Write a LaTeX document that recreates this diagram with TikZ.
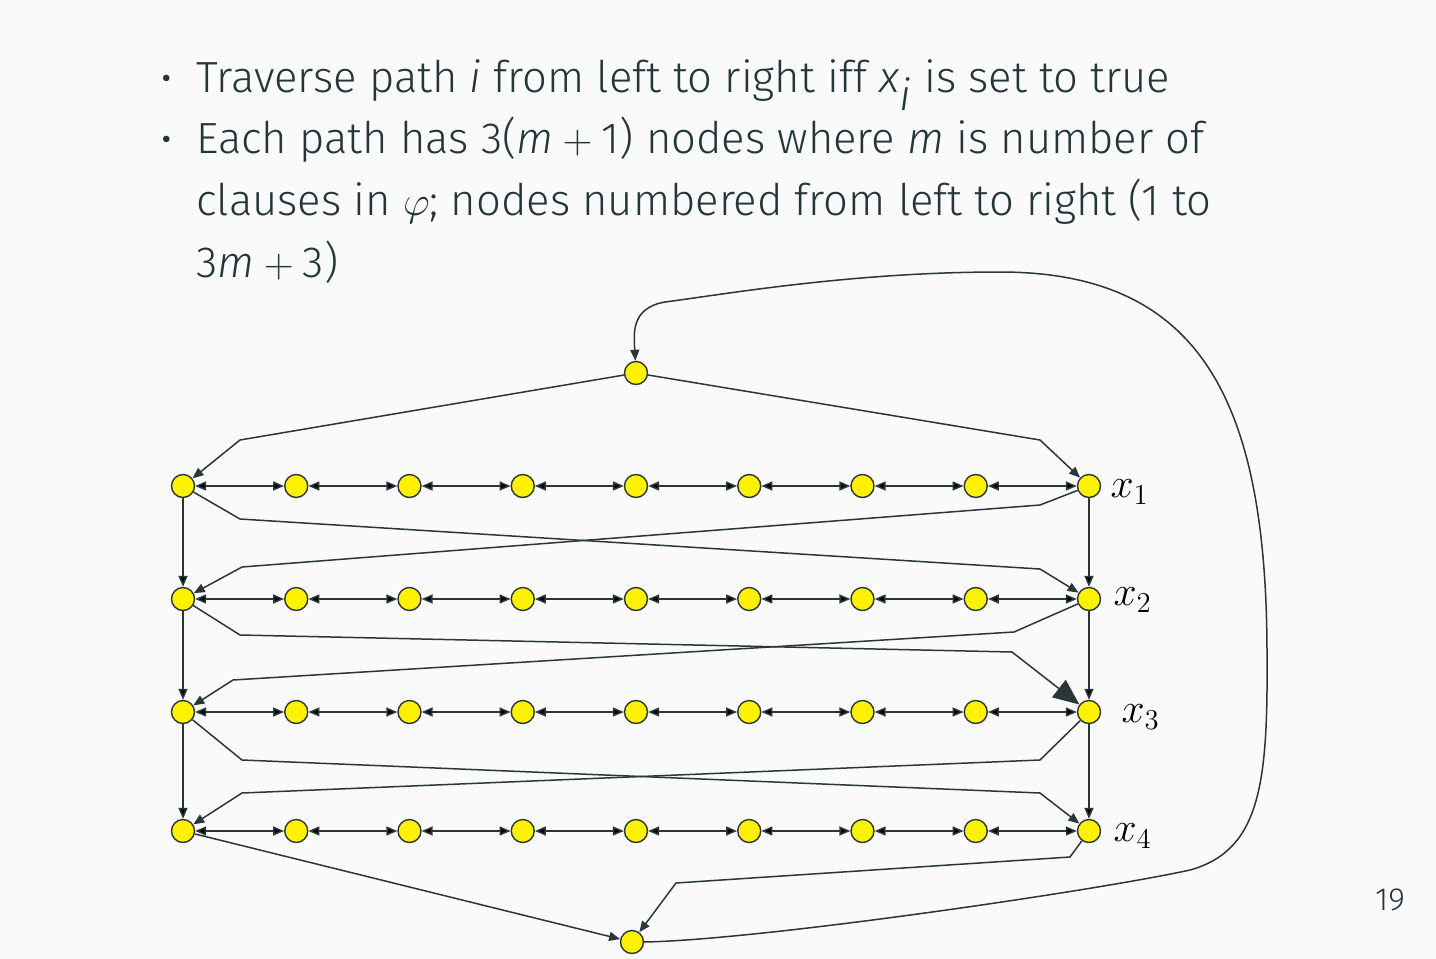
\documentclass[tikz,border=0pt]{standalone}
\usepackage{fontspec}
\setmainfont{Fira Sans}[UprightFont=* Light, ItalicFont=* Light Italic]
\usetikzlibrary{arrows.meta,positioning}
\definecolor{bgcol}{HTML}{FAFAFA}
\definecolor{textcol}{HTML}{23373B}
\definecolor{linecol}{HTML}{2A3638}
\tikzset{main node/.style={circle,fill=yellow,draw=linecol,line width=0.7pt,minimum size=11.5pt,inner sep=0pt},
         var label/.style={rectangle,draw=none,fill=none,inner sep=0pt,anchor=west,text=black,font=\fontsize{21}{21}\selectfont},
         line text/.style={rectangle,draw=none,fill=none,inner sep=0pt,anchor=base west,text=textcol,font=\fontsize{21.8}{31}\selectfont},
         edge line/.style={draw=linecol,line width=0.75pt}
}

\begin{document}
\begin{tikzpicture}[x=0.5pt,y=-0.5pt,
>={Triangle[length=5.5pt,width=4.5pt]},
node distance=56.625pt, on grid]
\useasboundingbox (0,0) rectangle (1436,959);
\fill[bgcol] (0,0) rectangle (1436,959);

% bullet text
\node [line text,anchor=center] (b1) at (167,84) {\textbullet};
\node [line text] (l1) at (196,92) {Traverse path \textit{i} from left to right iff \textit{x}$_{\textit{i}}$ is set to true};
\node [line text,anchor=center] (b2) at (167,145) {\textbullet};
\node [line text] (l2) at (196,153) {Each path has 3(\textit{m}${}+{}$1) nodes where \textit{m} is number of};
\node [line text] (l3) at (196,215) {clauses in $\varphi$; nodes numbered from left to right (1 to};
\node [line text] (l4) at (196,277) {3\textit{m}${}+{}$3)};
\node [line text,anchor=center,font=\fontsize{16}{16}\selectfont] (page) at (1390,900) {19};

% start and end
\node [main node] (s) at (636,373) {};
\node [main node] (t) at (632,942) {};

% path x1
\node [main node] (11) at (183,486) {};
\node [main node, right=of 11] (12) {};
\node [main node, right=of 12] (13) {};
\node [main node, right=of 13] (14) {};
\node [main node, right=of 14] (15) {};
\node [main node, right=of 15] (16) {};
\node [main node, right=of 16] (17) {};
\node [main node, right=of 17] (18) {};
\node [main node, right=of 18] (19) {};
% path x2
\node [main node] (21) at (183,599) {};
\node [main node, right=of 21] (22) {};
\node [main node, right=of 22] (23) {};
\node [main node, right=of 23] (24) {};
\node [main node, right=of 24] (25) {};
\node [main node, right=of 25] (26) {};
\node [main node, right=of 26] (27) {};
\node [main node, right=of 27] (28) {};
\node [main node, right=of 28] (29) {};
% path x3
\node [main node] (31) at (183,712) {};
\node [main node, right=of 31] (32) {};
\node [main node, right=of 32] (33) {};
\node [main node, right=of 33] (34) {};
\node [main node, right=of 34] (35) {};
\node [main node, right=of 35] (36) {};
\node [main node, right=of 36] (37) {};
\node [main node, right=of 37] (38) {};
\node [main node, right=of 38] (39) {};
% path x4
\node [main node] (41) at (183,831) {};
\node [main node, right=of 41] (42) {};
\node [main node, right=of 42] (43) {};
\node [main node, right=of 43] (44) {};
\node [main node, right=of 44] (45) {};
\node [main node, right=of 45] (46) {};
\node [main node, right=of 46] (47) {};
\node [main node, right=of 47] (48) {};
\node [main node, right=of 48] (49) {};

\node [var label, xshift=4.5pt, yshift=-3pt] (x1) at (19.east) {$x_1$};
\node [var label, xshift=6pt, yshift=-0.5pt] (x2) at (29.east) {$x_2$};
\node [var label, xshift=10pt, yshift=-2.5pt] (x3) at (39.east) {$x_3$};
\node [var label, xshift=6pt, yshift=-2.5pt] (x4) at (49.east) {$x_4$};

% rows
\path [edge line,<->] (11) edge (12) (12) edge (13) (13) edge (14) (14) edge (15)
    (15) edge (16) (16) edge (17) (17) edge (18) (18) edge (19);
\path [edge line,<->] (21) edge (22) (22) edge (23) (23) edge (24) (24) edge (25)
    (25) edge (26) (26) edge (27) (27) edge (28) (28) edge (29);
\path [edge line,<->] (31) edge (32) (32) edge (33) (33) edge (34) (34) edge (35)
    (35) edge (36) (36) edge (37) (37) edge (38) (38) edge (39);
\path [edge line,<->] (41) edge (42) (42) edge (43) (43) edge (44) (44) edge (45)
    (45) edge (46) (46) edge (47) (47) edge (48) (48) edge (49);

% columns
\path [edge line,->] (11) edge (21) (21) edge (31) (31) edge (41)
    (19) edge (29) (29) edge (39) (39) edge (49);

% from start
\draw [edge line,->] (s) -- (240,440) -- (11);
\draw [edge line,->] (s) -- (1040,440) -- (19);

% between paths
\draw [edge line,->] (11) -- (240,519) -- (1040,569) -- (29);
\draw [edge line,->] (19) -- (1040,505) -- (242,567) -- (21);
\draw [edge line,-{Triangle[length=13pt,width=11pt]}] (21) -- (240,635) -- (1012,652) -- (39);
\draw [edge line,->] (29) -- (1014,632) -- (233,680) -- (31);
\draw [edge line,->] (31) -- (242,760) -- (1040,793) -- (49);
\draw [edge line,->] (39) -- (1040,760) -- (242,793) -- (41);

% to end
\draw [edge line,->] (41) -- (t);
\draw [edge line,->] (49) -- (1070,857) -- (676,883) -- (t);

% back to start
\draw [edge line,->] (t.east) .. controls (760,940) and (1100,890) .. (1190,870)
    .. controls (1262,850) and (1268,780) .. (1267,650)
    .. controls (1266,400) and (1200,272) .. (1000,272)
    .. controls (850,272) and (720,295) .. (665,302)
    .. controls (630,308) and (634,335) .. (s);
\end{tikzpicture}
\end{document}
